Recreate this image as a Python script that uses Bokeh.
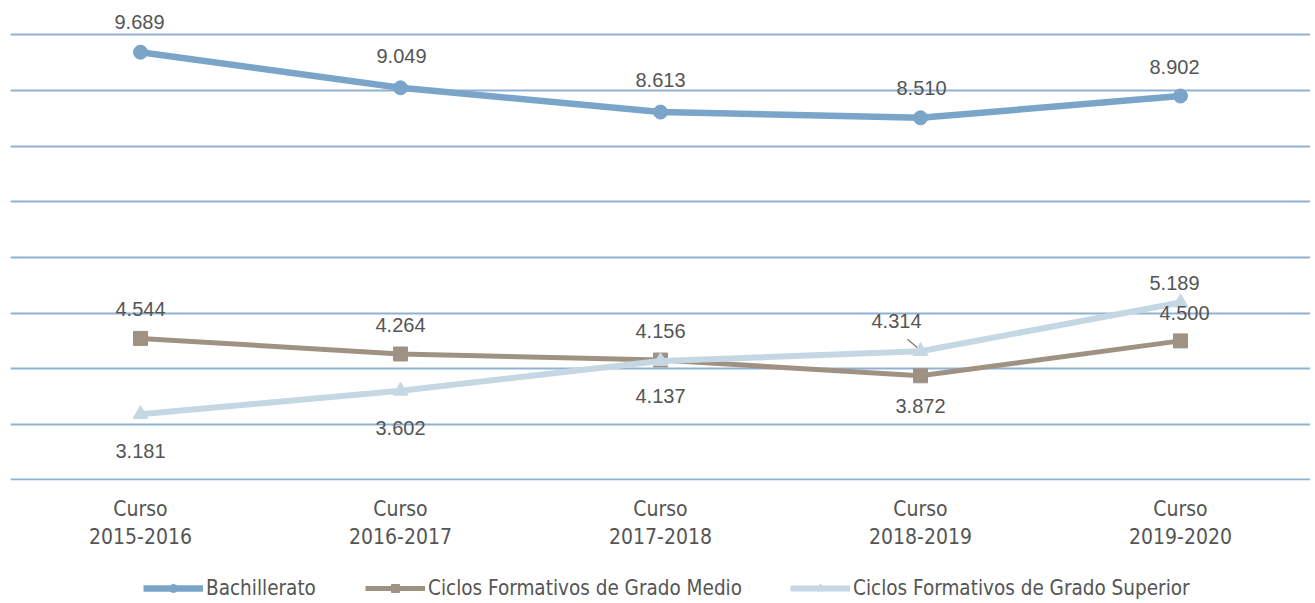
from bokeh.plotting import figure
from bokeh.layouts import column
from bokeh.models import (ColumnDataSource, FactorRange, Range1d, FixedTicker,
                          Legend, LegendItem)
from bokeh.core.properties import value
from bokeh.transform import dodge
from bokeh.embed import file_html
from bokeh.resources import INLINE

# ---- data ----
cursos = ["Curso\n2015-2016", "Curso\n2016-2017", "Curso\n2017-2018",
          "Curso\n2018-2019", "Curso\n2019-2020"]
bachillerato = [9689, 9049, 8613, 8510, 8902]
grado_medio = [4544, 4264, 4156, 3872, 4500]
grado_superior = [3181, 3602, 4137, 4314, 5189]
series_names = ["Bachillerato", "Ciclos Formativos de Grado Medio",
                "Ciclos Formativos de Grado Superior"]
y_ticks = [2000, 3000, 4000, 5000, 6000, 7000, 8000, 9000, 10000]

# ---- styles ----
C_BACH = "#7ba4c9"
C_MED = "#a09283"
C_SUP = "#c6d7e4"
C_GRID = "#8fb1d3"
C_TEXT = "#555555"
NARROW = "'DejaVu Sans Condensed', Roboto, sans-serif"

p = figure(x_range=FactorRange(factors=cursos, range_padding=0),
           y_range=Range1d(1990, 10601),
           width=1310, height=565, output_backend="svg", toolbar_location=None,
           min_border_left=10, min_border_right=0, min_border_top=1,
           min_border_bottom=85)
p.outline_line_color = None
p.background_fill_color = "white"
p.border_fill_color = "white"

p.yaxis.visible = False
p.ygrid.ticker = FixedTicker(ticks=y_ticks)
p.ygrid.grid_line_color = C_GRID
p.ygrid.grid_line_width = 2
p.xgrid.grid_line_color = None

xa = p.xaxis[0]
xa.axis_line_color = None
xa.major_tick_line_color = None
xa.minor_tick_line_color = None
xa.major_label_text_font = NARROW
xa.major_label_text_font_size = "21px"
xa.major_label_text_color = C_TEXT
xa.major_label_standoff = 10

def fmt(v):
    return f"{v:,}".replace(",", ".")

styles = [
    dict(color=C_BACH, width=6.5, marker="circle", size=14),
    dict(color=C_MED, width=5, marker="square", size=14),
    dict(color=C_SUP, width=6, marker="triangle", size=15),
]
series = [bachillerato, grado_medio, grado_superior]

# leader line for the 2018-2019 "Grado Superior" label
px_per_unit = 445 / 8000
lead_src = ColumnDataSource(dict(x=[cursos[3]], y=[grado_superior[3] + 2 / px_per_unit],
                                 yt=[grado_superior[3] + 12 / px_per_unit]))
p.segment(x0=dodge("x", -0.05, range=p.x_range), y0="yt", x1=dodge("x", -0.005, range=p.x_range),
          y1="y", source=lead_src, line_color="#777777", line_width=1.2)

for vals, st in zip(series, styles):
    p.line(cursos, vals, line_color=st["color"], line_width=st["width"])
    p.scatter(cursos, vals, marker=st["marker"], size=st["size"],
              fill_color=st["color"], line_color=st["color"])

# data labels (offsets in screen px, positive = down)
label_dx = [[-1, 1, 0, 1, -6], [0, 0, 0, 0, 4], [0, 0, 0, -24, -6]]
label_dy = [[-30, -32, -32, -30, -29], [-29, -29, -29, 30, -28], [37, 37, 35, -30, -20]]
for vals, dx, dy in zip(series, label_dx, label_dy):
    src = ColumnDataSource(dict(x=cursos, y=vals, t=[fmt(v) for v in vals], dx=dx, dy=dy))
    p.text(x="x", y="y", text="t", x_offset="dx", y_offset="dy", source=src,
           text_align="center", text_baseline="middle",
           text_font=value("Liberation Sans"), text_font_size="20px", text_color=C_TEXT)

# ---- legend strip (separate figure below; series drawn out of view) ----
lg_fig = figure(width=1310, height=38, x_range=FactorRange(factors=cursos),
                y_range=Range1d(0, 1),
                x_axis_type=None, y_axis_type=None, output_backend="svg",
                toolbar_location=None, min_border=0)
lg_fig.outline_line_color = None
lg_fig.xgrid.visible = False
lg_fig.ygrid.visible = False

legend_x = [133, 355, 780]
for name, vals, st, lx in zip(series_names, series, styles, legend_x):
    r1 = lg_fig.line(cursos, vals, line_color=st["color"], line_width=st["width"])
    r2 = lg_fig.scatter(cursos, vals, marker=st["marker"], size=st["size"] - 2,
                        fill_color=st["color"], line_color=st["color"])
    lg = Legend(items=[LegendItem(label=name, renderers=[r1, r2])], location=(lx, 3),
                orientation="horizontal", border_line_color=None,
                background_fill_alpha=0, label_text_font=NARROW,
                label_text_font_size="20.5px", label_text_color=C_TEXT,
                glyph_width=60, glyph_height=20, label_height=20,
                label_standoff=3, padding=0, margin=0, spacing=0)
    lg_fig.add_layout(lg, "center")

layout = column(p, lg_fig, spacing=0)
open("out.html", "w").write(file_html(layout, INLINE))
